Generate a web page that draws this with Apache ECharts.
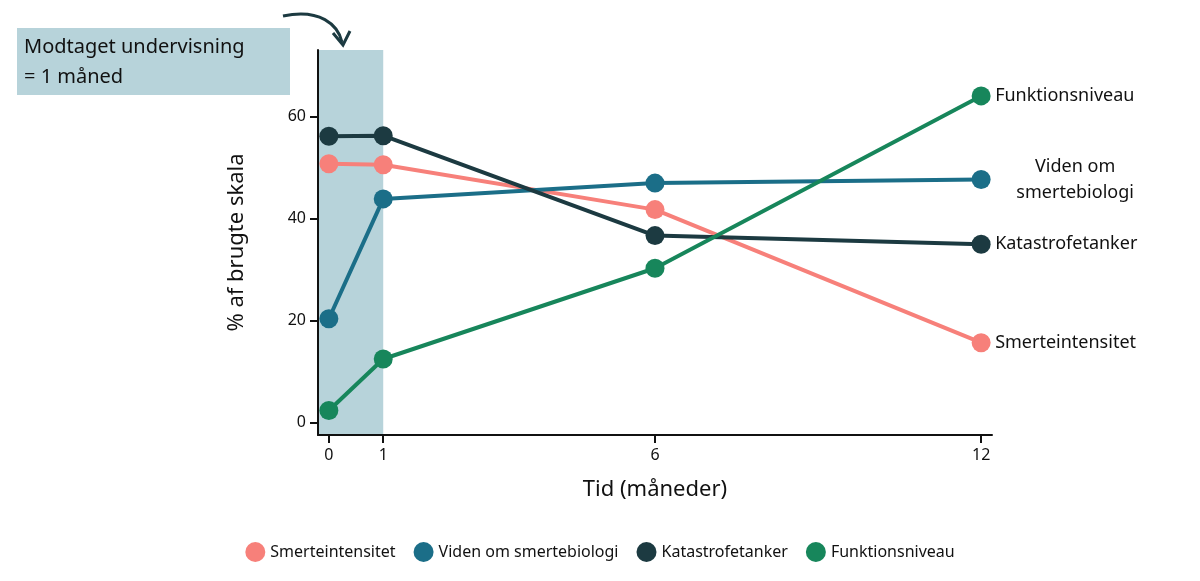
<!DOCTYPE html>
<html><head><meta charset="utf-8">
<script src="https://cdn.jsdelivr.net/npm/echarts@6/dist/echarts.min.js"></script>
<style>html,body{margin:0;padding:0;background:#fff}#c{width:1200px;height:581px}</style>
</head><body><div id="c"></div>
<script>
const months = [0, 1, 6, 12];
const xTicks = [0, 1, 6, 12];
const yTicks = [0, 20, 40, 60];
const names = ['Smerteintensitet', 'Viden om smertebiologi', 'Katastrofetanker', 'Funktionsniveau'];
const endNames = ['Smerteintensitet', 'Viden om\nsmertebiologi', 'Katastrofetanker', 'Funktionsniveau'];
const smerte = [50.7, 50.5, 41.7, 15.6];
const viden = [20.3, 43.8, 46.9, 47.6];
const katastrofe = [56.1, 56.2, 36.6, 34.9];
const funktion = [2.3, 12.4, 30.2, 64.0];
const colors = ['#f7807a', '#1b6e88', '#1c3a41', '#17865b'];
const values = [smerte, viden, katastrofe, funktion];
const font = 'Noto Sans';

const series = values.map((v, i) => ({
  name: names[i], type: 'line',
  data: v.map((y, j) => [months[j], y]),
  symbol: 'circle', symbolSize: 19,
  lineStyle: {width: 4, color: colors[i]},
  itemStyle: {color: colors[i]},
  z: 3 + i,
  endLabel: {show: true, formatter: endNames[i], color: '#111', fontSize: 18, fontFamily: font, distance: 14, align: i === 1 ? 'center' : 'left', offset: i === 1 ? [80, 0] : [0, 0], lineHeight: 26},
  markArea: i === 0 ? {silent: true, itemStyle: {color: '#b7d3da'}, data: [[{xAxis: -0.2, yAxis: -2.5}, {xAxis: 1, yAxis: 73}]]} : undefined
}));

const chart = echarts.init(document.getElementById('c'));
chart.setOption({
  animation: false,
  color: colors,
  grid: {left: 318, right: 208, top: 50, bottom: 146},
  xAxis: {type: 'value', min: -0.2, max: 12.2, z: 10,
    name: 'Tid (måneder)', nameLocation: 'middle', nameGap: 44,
    nameTextStyle: {fontSize: 22, color: '#111', fontFamily: font},
    axisLine: {onZero: false, lineStyle: {color: '#111', width: 2}},
    axisTick: {show: true, length: 8, lineStyle: {color: '#111', width: 2}, customValues: xTicks},
    axisLabel: {customValues: xTicks, fontSize: 16, color: '#111', fontFamily: font, margin: 12},
    splitLine: {show: false}},
  yAxis: {type: 'value', min: -2.5, max: 73, z: 10,
    name: '% af brugte skala', nameLocation: 'middle', nameGap: 70,
    nameTextStyle: {fontSize: 22, color: '#111', fontFamily: font},
    axisLine: {show: true, onZero: false, lineStyle: {color: '#111', width: 2}},
    axisTick: {show: true, length: 8, lineStyle: {color: '#111', width: 2}, customValues: yTicks},
    axisLabel: {customValues: yTicks, fontSize: 16, color: '#111', fontFamily: font, margin: 12},
    splitLine: {show: false}},
  legend: {bottom: 14, left: 'center', icon: 'circle', itemWidth: 20, itemHeight: 20, itemGap: 18,
    textStyle: {fontSize: 16, color: '#111', fontFamily: font}, data: names},
  graphic: [
    {type: 'rect', shape: {x: 17, y: 28, width: 273, height: 67}, style: {fill: '#b7d3da'}, z: 10},
    {type: 'text', left: 24, top: 32, z: 11, style: {text: 'Modtaget undervisning\n= 1 måned', fontSize: 20, lineHeight: 30, fill: '#111', fontFamily: font}},
    {type: 'bezierCurve', z: 11, shape: {x1: 283, y1: 16, cpx1: 320, cpy1: 8, cpx2: 338, cpy2: 25, x2: 342, y2: 42}, style: {stroke: '#1c3a41', lineWidth: 3, fill: null}},
    {type: 'polyline', z: 11, shape: {points: [[333, 33], [343, 45], [350, 31]]}, style: {stroke: '#1c3a41', lineWidth: 3, fill: null}}
  ],
  series
});
</script></body></html>
